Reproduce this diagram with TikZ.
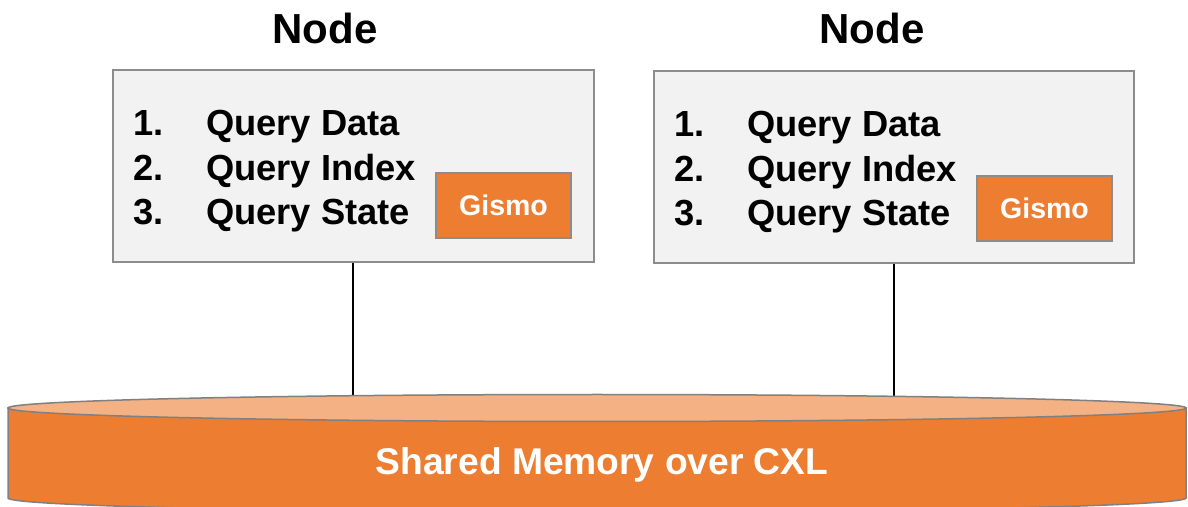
\documentclass[tikz,border=0pt]{standalone}
\usepackage{fontspec}
\setmainfont{Liberation Sans}
\definecolor{boxfill}{HTML}{F2F2F2}
\definecolor{boxline}{HTML}{8C8C8C}
\definecolor{orng}{HTML}{ED7D31}
\definecolor{lorng}{HTML}{F4B183}
\definecolor{cylline}{HTML}{808080}
\begin{document}
\begin{tikzpicture}[x=1pt,y=1pt,
  nodebox/.style={draw=boxline,line width=1.3pt,fill=boxfill,inner sep=0pt},
  gismo/.style={draw=boxline,line width=1.3pt,fill=orng,inner sep=0pt,minimum width=135pt,minimum height=65pt,text=white,font=\fontsize{28.5}{31}\selectfont\bfseries},
  title/.style={font=\fontsize{42}{46}\selectfont\bfseries},
  item/.style={anchor=base west,inner sep=0pt,font=\fontsize{36.3}{40}\selectfont\bfseries},
  link/.style={draw=black,line width=1.3pt}]
\useasboundingbox (0,0) rectangle (1188,506);
% node boxes
\node[nodebox,minimum width=481pt,minimum height=192pt] (lbox) at (353.5,340) {};
\node[nodebox,minimum width=480pt,minimum height=192pt] (rbox) at (894,339) {};
% titles
\node[title] (ltitle) at (325,478) {Node};
\node[title] (rtitle) at (872,478) {Node};
% lists
\node[item] (l1n) at (133,370) {1.};
\node[item] (l1t) at (206,370) {Query Data};
\node[item] (l2n) at (133,325) {2.};
\node[item] (l2t) at (206,325) {Query Index};
\node[item] (l3n) at (133,281) {3.};
\node[item] (l3t) at (206,281) {Query State};
\node[item] (r1n) at (674,369) {1.};
\node[item] (r1t) at (747,369) {Query Data};
\node[item] (r2n) at (674,324) {2.};
\node[item] (r2t) at (747,324) {Query Index};
\node[item] (r3n) at (674,280) {3.};
\node[item] (r3t) at (747,280) {Query State};
% gismo
\node[gismo] (lg) at (503.5,300.5) {Gismo};
\node[gismo] (rg) at (1044.5,297.5) {Gismo};
% connectors
\coordinate (lc) at (353,104);
\coordinate (rc) at (894,104);
\draw[link] (lbox.south -| lc) -- (lc);
\draw[link] (rbox.south -| rc) -- (rc);
% cylinder
\draw[draw=cylline,line width=1.5pt,fill=orng]
  (8,98) -- (8,8) arc[start angle=180,end angle=360,x radius=589,y radius=14]
  -- (1186,98) -- cycle;
\draw[draw=cylline,line width=1.5pt,fill=lorng] (597,98) ellipse[x radius=589,y radius=13.5];
\node[text=white,font=\fontsize{37.2}{41}\selectfont\bfseries] (mem) at (602,41) {Shared Memory over CXL};
\end{tikzpicture}
\end{document}
